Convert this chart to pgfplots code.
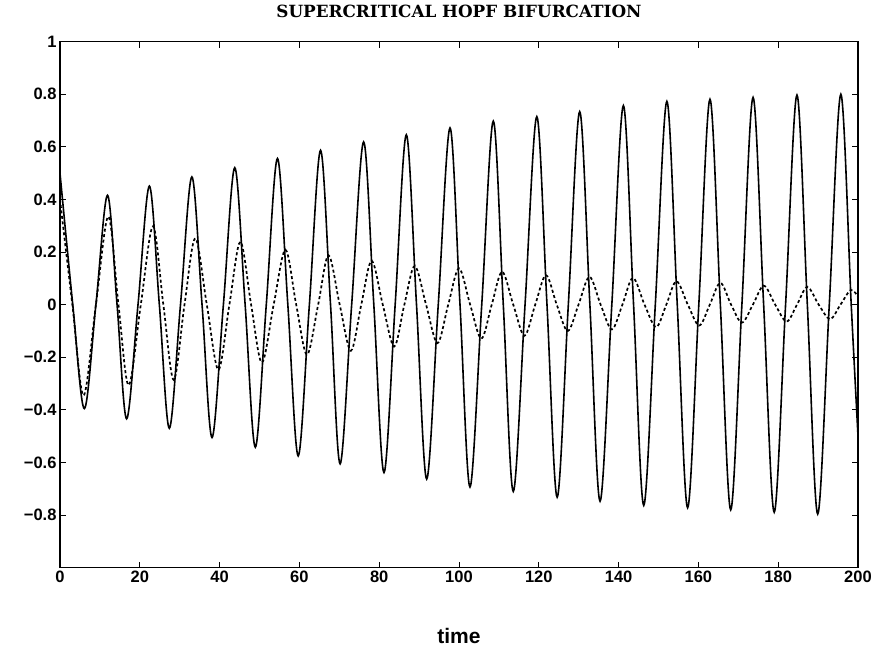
\documentclass[border=0pt]{standalone}
\usepackage{pgfplots}
\pgfplotsset{compat=1.18}
\usetikzlibrary{calc}
\usepackage{fontspec}
\setmainfont{Liberation Sans}
\newfontfamily\titlefont{DejaVu Serif}
\begin{document}
\begin{tikzpicture}
\begin{axis}[
  scale only axis,
  width=798pt, height=526pt,
  xmin=0, xmax=200, ymin=-1, ymax=1,
  xtick={0,20,40,60,80,100,120,140,160,180,200},
  ytick={-0.8,-0.6,-0.4,-0.2,0,0.2,0.4,0.6,0.8,1},
  yticklabels={−0.8,−0.6,−0.4,−0.2,0,0.2,0.4,0.6,0.8,1},
  xticklabels={0,20,40,60,80,100,120,140,160,180,200},
  tick label style={font=\fontsize{16.5}{18}\selectfont\bfseries},
  /pgf/number format/assume math mode=true,
  axis line style={line width=1.3pt},
  major tick length=6pt,
  tick style={line width=1pt, black},
  title={SUPERCRITICAL HOPF BIFURCATION},
  title style={font=\titlefont\bfseries\fontsize{16.8}{18}\selectfont, at={(0.5,1)}, anchor=base, yshift=18pt},
  xlabel={time},
  xlabel style={font=\fontsize{21}{23}\selectfont\bfseries, at={(0.5,0)}, anchor=center, yshift=-68pt},
  clip=true,
]
\addplot[black, line width=1.6pt, smooth, tension=0.55] coordinates {
(0,0.50) (3.2,0) (6.1,-0.395) (9.0,0) (11.9,0.416) (14.3,0) (16.7,-0.434)
(19.55,0) (22.4,0.451) (24.9,0) (27.4,-0.47) (30.2,0) (33.05,0.486)
(35.6,0) (38.1,-0.505) (40.95,0) (43.8,0.521) (46.4,0) (48.95,-0.542)
(51.7,0) (54.5,0.556) (57.1,0) (59.7,-0.575) (62.5,0) (65.3,0.587)
(67.8,0) (70.2,-0.605) (73.1,0) (76.1,0.619) (78.65,0) (81.2,-0.638)
(84.0,0) (86.8,0.646) (89.35,0) (91.9,-0.663) (94.8,0) (97.75,0.672)
(100.25,0) (102.75,-0.693) (105.7,0) (108.6,0.698) (111.1,0) (113.6,-0.71)
(116.55,0) (119.5,0.715) (122.05,0) (124.6,-0.732) (127.4,0) (130.25,0.734)
(132.8,0) (135.35,-0.747) (138.3,0) (141.2,0.757) (143.75,0) (146.3,-0.763)
(149.2,0) (152.1,0.773) (154.7,0) (157.3,-0.772) (160.1,0) (162.9,0.781)
(165.5,0) (168.1,-0.78) (170.9,0) (173.7,0.788) (176.35,0) (179.0,-0.789)
(181.85,0) (184.7,0.797) (187.3,0) (189.9,-0.796) (192.8,0) (195.7,0.80)
(198.3,0) (200,-0.5)
};
\addplot[black, line width=1.7pt, smooth, tension=0.55, dash pattern=on 3pt off 2.5pt] coordinates {
(0,0.40) (3.1,0) (5.9,-0.345) (9.0,0) (12.1,0.335) (14.65,0) (17.2,-0.306)
(20.25,0) (23.3,0.298) (25.9,0) (28.5,-0.286) (31.2,0) (33.9,0.252)
(36.8,0) (39.7,-0.247) (42.45,0) (45.2,0.239) (47.9,0) (50.6,-0.22)
(53.55,0) (56.5,0.209) (59.2,0) (61.9,-0.19) (64.7,0) (67.3,0.188)
(70.1,0) (72.9,-0.175) (75.5,0) (78.1,0.167) (80.9,0) (83.75,-0.159)
(86.3,0) (88.9,0.147) (91.75,0) (94.6,-0.146) (97.3,0) (100.0,0.138)
(102.8,0) (105.6,-0.129) (108.2,0) (110.8,0.125) (113.6,0) (116.4,-0.118)
(119.1,0) (121.8,0.112) (124.5,0) (127.25,-0.10) (129.95,0) (132.7,0.106)
(135.5,0) (138.3,-0.094) (140.95,0) (143.6,0.102) (146.5,0) (149.4,-0.085)
(151.95,0) (154.5,0.089) (157.35,0) (160.2,-0.079) (162.85,0) (165.5,0.083)
(168.2,0) (170.9,-0.068) (173.65,0) (176.4,0.072) (179.25,0) (182.1,-0.064)
(184.7,0) (187.3,0.067) (190.15,0) (193.0,-0.055) (195.6,0) (198.2,0.056)
(200,0.03)
};
\end{axis}
\pgfresetboundingbox
\path[use as bounding box] ($(current axis.south west)+(-60pt,-78.5pt)$) rectangle ($(current axis.north east)+(21pt,41.7pt)$);
\end{tikzpicture}
\end{document}
